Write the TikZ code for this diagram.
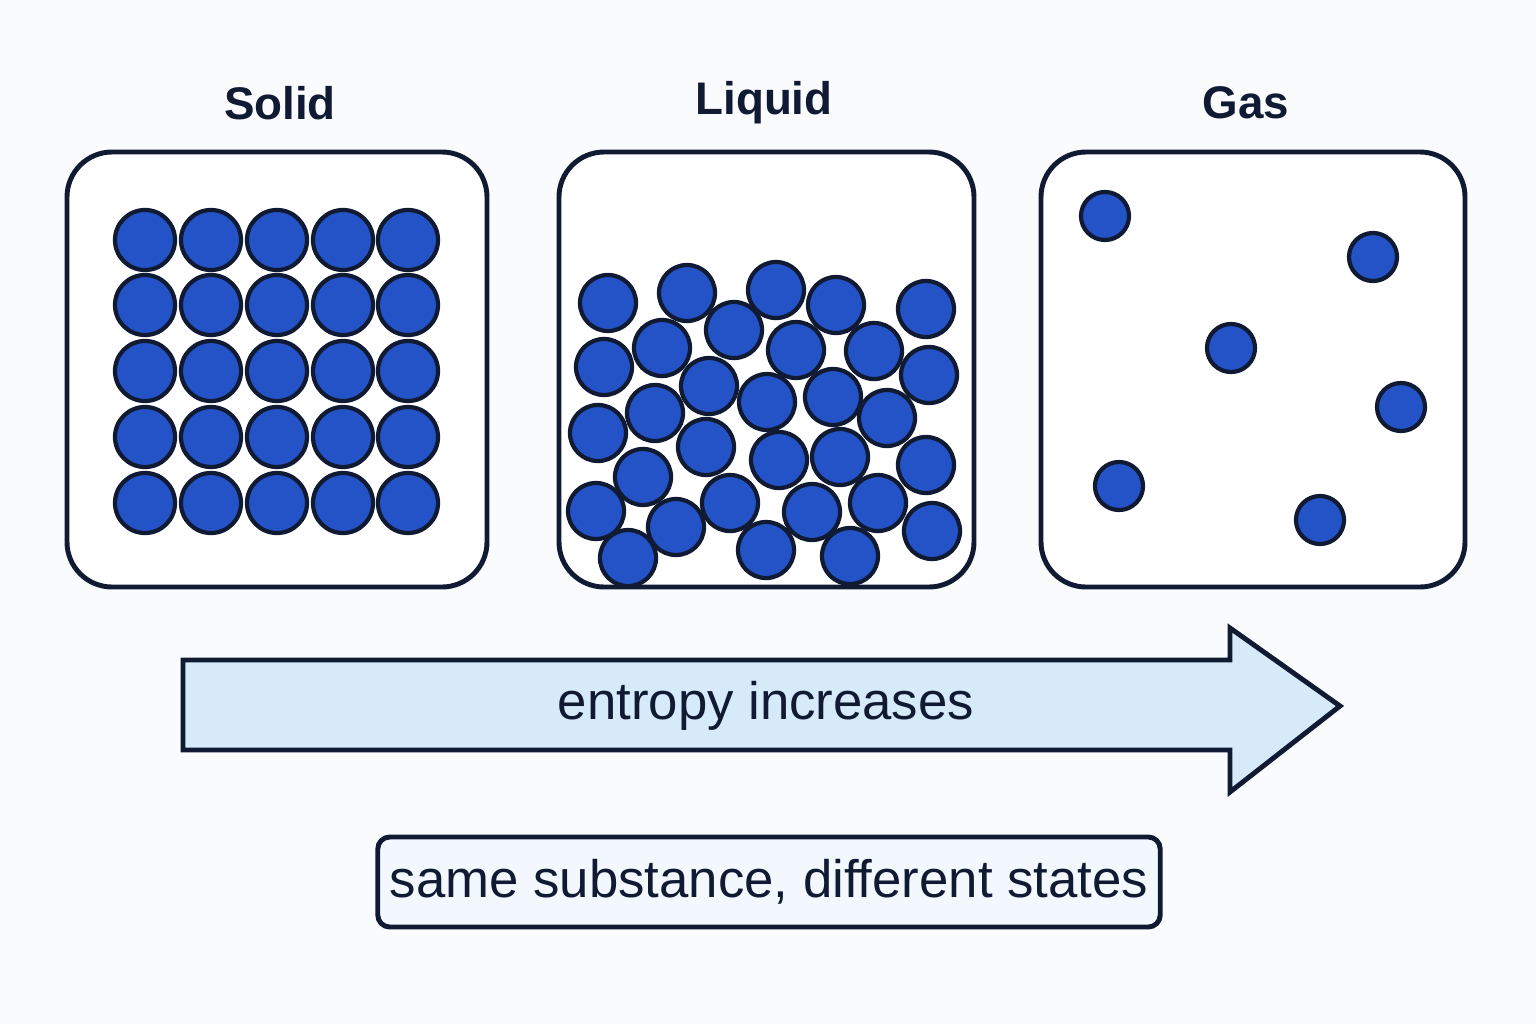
\documentclass[tikz,border=0pt]{standalone}
\usepackage{fontspec}
\setmainfont{Liberation Sans}
\usetikzlibrary{positioning}
\definecolor{ink}{HTML}{111A33}
\definecolor{bead}{HTML}{2453C8}
\definecolor{flow}{HTML}{D6EAFA}
\definecolor{tag}{HTML}{F3F8FE}
\definecolor{paper}{HTML}{FAFBFD}
\begin{document}
\begin{tikzpicture}[x=0.01cm,y=-0.01cm,
    state/.style={draw=ink,line width=1.4pt,rounded corners=0.45cm,fill=white},
    title/.style={font=\bfseries\fontsize{13}{15}\selectfont,text=ink},
    bead/.style={draw=ink,line width=1.2pt,fill=bead}]
  \fill[paper] (0,0) rectangle (1536,1024);
  % the three containers
  \draw[state] (67,152) rectangle (487,587);
  \draw[state] (559,152) rectangle (974,587);
  \draw[state] (1041,152) rectangle (1465,587);
  \node[title] (solid) at (280,103) {Solid};
  \node[title] (liquid) at (764,103) {Liquid};
  \node[title] (gas) at (1246,103) {Gas};
  % solid: regular lattice
  \foreach \x in {145,211,277,343,408}
    \foreach \y in {240,305,371,437,503}
      \draw[bead] (\x,\y) circle (0.30cm);
  % liquid: packed, disordered
  \foreach \x/\y in {608/303,687/293,776/290,836/305,926/309,662/348,734/330,
      796/350,874/351,604/367,709/386,767/402,833/397,929/375,655/413,887/418,
      598/433,706/447,779/460,840/457,926/465,643/477,730/503,812/512,878/503,
      596/511,676/527,932/531,628/558,766/550,850/556}
    \draw[bead] (\x,\y) circle (0.28cm);
  % gas: sparse
  \foreach \x/\y in {1105/216,1373/257,1231/348,1401/407,1119/486,1320/520}
    \draw[bead] (\x,\y) circle (0.24cm);
  % arrow
  \draw[ink,line width=1.4pt,fill=flow] (183,660) -- (1230,660) -- (1230,628)
    -- (1340,706) -- (1230,792) -- (1230,750) -- (183,750) -- cycle;
  \node[font=\fontsize{15}{18}\selectfont,text=ink] (entropy) at (766,706) {entropy increases};
  % caption
  \node[draw=ink,line width=1.4pt,fill=tag,rounded corners=0.12cm,
    minimum width=7.82cm,minimum height=0.9cm,
    font=\fontsize{15}{18}\selectfont,text=ink] (note) at (769,882)
    {same substance, different states};
\end{tikzpicture}
\end{document}
